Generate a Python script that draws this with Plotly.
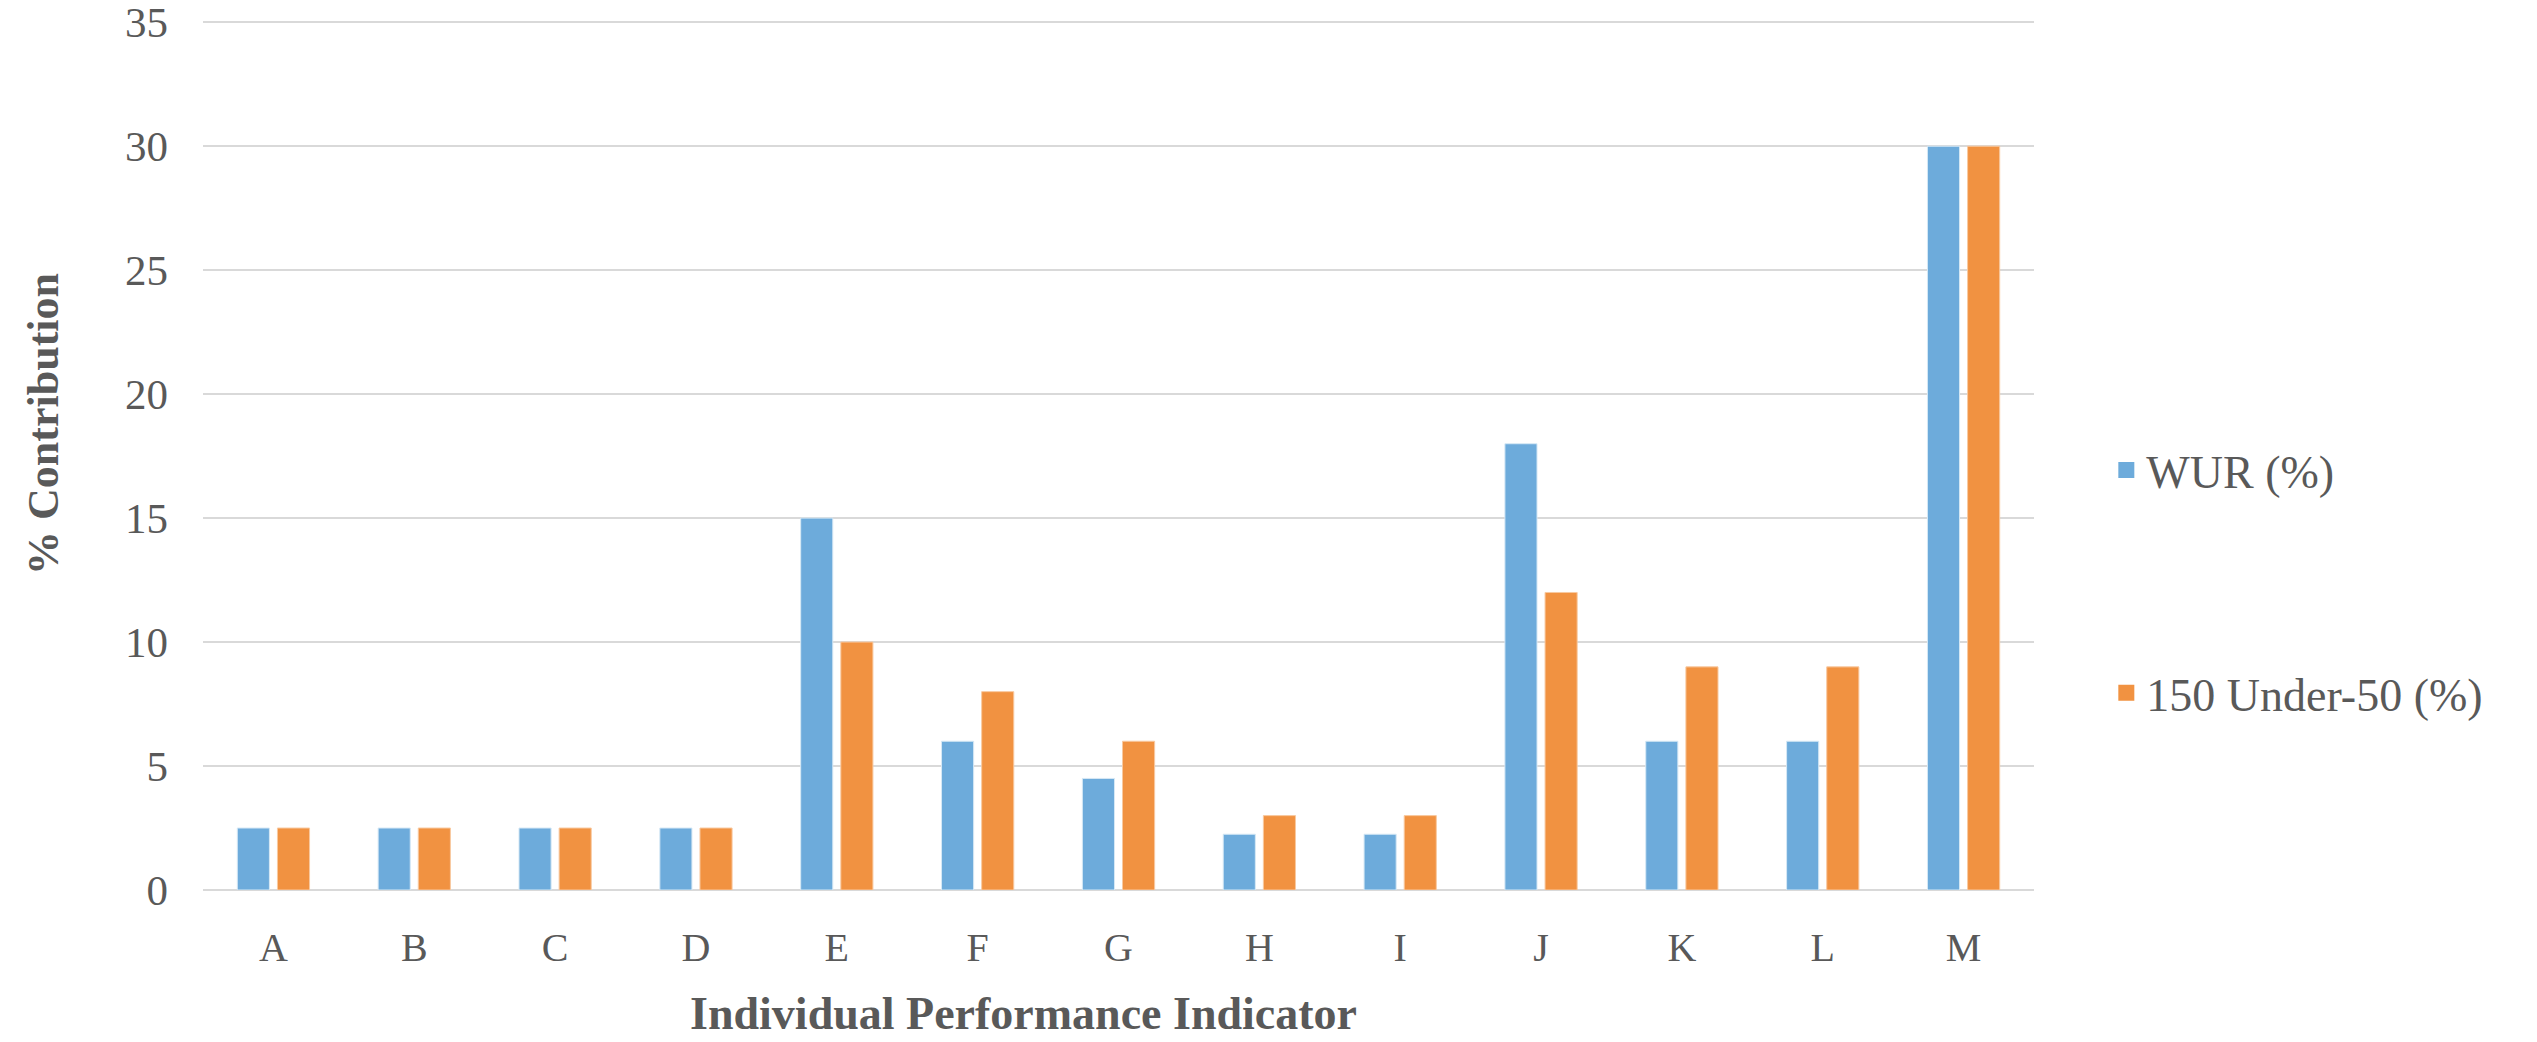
import plotly.graph_objects as go

categories = ["A", "B", "C", "D", "E", "F", "G", "H", "I", "J", "K", "L", "M"]
wur = [2.5, 2.5, 2.5, 2.5, 15, 6, 4.5, 2.25, 2.25, 18, 6, 6, 30]
u50 = [2.5, 2.5, 2.5, 2.5, 10, 8, 6, 3, 3, 12, 9, 9, 30]
series_names = ["WUR (%)", "150 Under-50 (%)"]
colors = ["#6DABDB", "#F19241"]
outline = ["#D6E8F5", "#F8C9A0"]
y_ticks = [0, 5, 10, 15, 20, 25, 30, 35]

FONT = "Liberation Serif"
TXT = "#595959"

fig = go.Figure()
for vals, name, c, oc in zip([wur, u50], series_names, colors, outline):
    fig.add_trace(go.Bar(x=categories, y=vals, name=name, showlegend=False,
                         marker=dict(color=c, line=dict(color=oc, width=1))))
# legend entries (larger square swatches)
for i, (name, c) in enumerate(zip(series_names, colors)):
    fig.add_trace(go.Scatter(x=[None], y=[None], mode="markers", name=name,
                             legendgroup=f"g{i}",
                             marker=dict(symbol="square", size=26, color=c)))

fig.update_layout(
    width=2537, height=1042,
    margin=dict(l=203, r=503, t=21, b=152),
    paper_bgcolor="white", plot_bgcolor="white",
    barmode="group", bargap=0.43, bargroupgap=0.2,
    font=dict(family=FONT, color=TXT, size=38),
    legend=dict(x=1.0395, xanchor="left", y=0.355, yanchor="middle",
                font=dict(family=FONT, size=46, color=TXT),
                tracegroupgap=160, bgcolor="rgba(0,0,0,0)", itemsizing="trace"),
    xaxis=dict(showgrid=False, ticks="", showline=False, automargin=False,
               ticklabelstandoff=30,
               tickfont=dict(family=FONT, size=40, color=TXT)),
    yaxis=dict(range=[0, 35.05], tickvals=y_ticks, showgrid=True, gridcolor="#D9D9D9",
               gridwidth=2, zeroline=True, zerolinecolor="#D9D9D9", zerolinewidth=2,
               showline=False, ticks="", ticklabelstandoff=34, automargin=False,
               ticklabeloverflow="allow",
               tickfont=dict(family=FONT, size=43, color=TXT)),
    annotations=[
        dict(text="<b>Individual Performance Indicator</b>", xref="paper", yref="paper",
             x=0.448, y=-0.142, xanchor="center", yanchor="middle", showarrow=False,
             font=dict(family=FONT, size=46, color=TXT)),
        dict(text="<b>% Contribution</b>", xref="paper", yref="paper",
             x=-0.087, y=0.536, xanchor="center", yanchor="middle", showarrow=False,
             textangle=-90, font=dict(family=FONT, size=44, color=TXT)),
    ],
)

fig.write_html("out.html", config={"displayModeBar": False},
               post_script="document.body.style.margin='0';")
